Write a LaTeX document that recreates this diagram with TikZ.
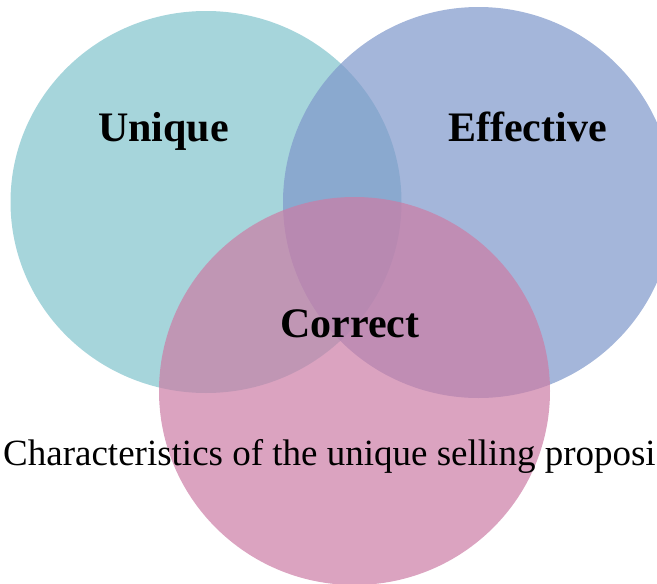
\documentclass[tikz,border=0pt]{standalone}
\usepackage{fontspec}
\setmainfont{Liberation Serif}
\usepackage{tikz}
\usetikzlibrary{positioning}

\definecolor{uniquecol}{RGB}{128,195,204}
\definecolor{effectcol}{RGB}{126,151,202}
\definecolor{correctcol}{RGB}{204,124,165}

\begin{document}
\begin{tikzpicture}[x=1pt,y=-1pt,
    setfill/.style={fill=#1,fill opacity=0.7},
    setlabel/.style={anchor=base,inner sep=0pt,font=\fontsize{42}{48}\selectfont\bfseries}]
                \useasboundingbox (0,0) rectangle (657,584);
                \begin{scope}
                    \clip (0,0) rectangle (657,584);
                    % the three sets
                    \fill[setfill=uniquecol] (206,202) ellipse [x radius=195.5,y radius=191];
                    \fill[setfill=effectcol] (478.5,202.5) ellipse [x radius=195.5,y radius=195.5];
                    \fill[setfill=correctcol] (354.5,391) ellipse [x radius=195.5,y radius=194];
                \end{scope}
                % labels
                \node[setlabel] (unique) at (163.5,141) {Unique};
                \node[setlabel] (effective) at (527.5,141) {Effective};
                \node[setlabel] (correct) at (350,337) {Correct};
                \node[anchor=base west,inner sep=0pt,font=\fontsize{37}{44}\selectfont] (caption) at (3,465)
                    {Characteristics of the unique selling proposi};
            \end{tikzpicture}
\end{document}
